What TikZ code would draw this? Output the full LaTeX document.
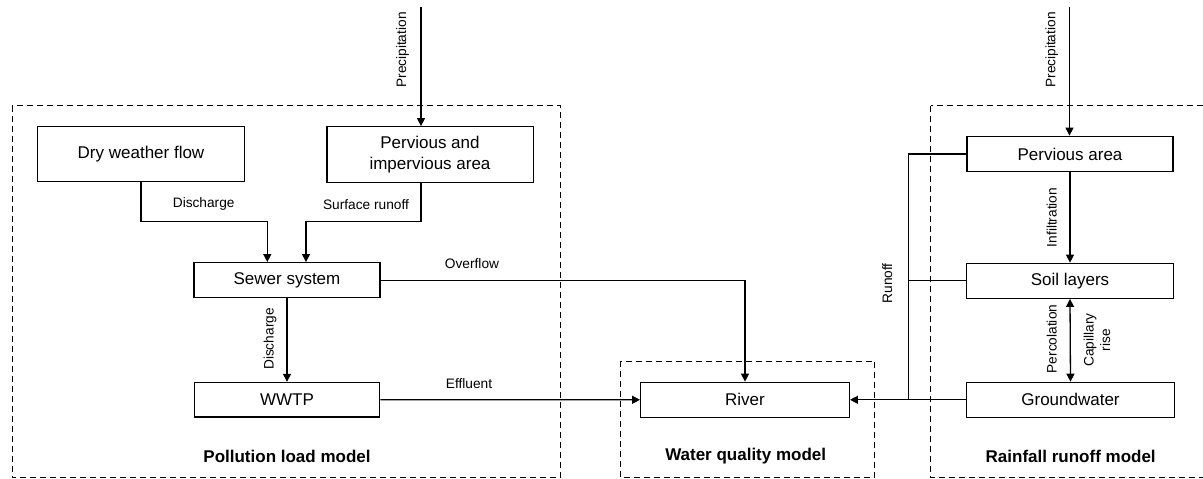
\documentclass[tikz,border=0pt]{standalone}
\usepackage{fontspec}
\setmainfont{Liberation Sans}
\usetikzlibrary{arrows.meta}
\tikzset{
  box/.style={draw, line width=1.3pt, inner sep=0pt, font=\fontsize{17}{20.5}\selectfont, align=center},
  lbl/.style={inner sep=0pt, font=\fontsize{13.7}{16.5}\selectfont, align=center},
  title/.style={inner sep=0pt, font=\fontsize{17}{20}\selectfont\bfseries},
  conn/.style={line width=1.3pt},
  arr/.style={line width=1.3pt, -{Triangle[length=8pt,width=8pt]}},
  region/.style={line width=1pt, dash pattern=on 6pt off 4pt},
}
\begin{document}
\begin{tikzpicture}[x=1pt,y=-1pt]
\useasboundingbox (0,0) rectangle (1203,479);
% model regions
\draw[region] (12,105.7) rectangle (560.7,477.5);
\draw[region] (620,361) rectangle (874.3,477.5);
\draw[region] (930.7,105.7) rectangle (1215,477.5);
% boxes
\node[box, minimum width=206.6pt, minimum height=55pt] (dwf) at (141,154.3) {Dry weather flow};
\node[box, minimum width=206.3pt, minimum height=55.5pt] (pia) at (430,154.5) {Pervious and\\impervious area};
\node[box, minimum width=186pt, minimum height=35pt] (sewer) at (287,280.2) {Sewer system};
\node[box, minimum width=185.3pt, minimum height=34.5pt] (wwtp) at (287,399.7) {WWTP};
\node[box, minimum width=208.6pt, minimum height=35pt] (river) at (745,399.8) {River};
\node[box, minimum width=206pt, minimum height=35.5pt] (pa) at (1070,154) {Pervious area};
\node[box, minimum width=207.6pt, minimum height=35pt] (soil) at (1070,280.8) {Soil layers};
\node[box, minimum width=207.6pt, minimum height=35pt] (gw) at (1070.5,399.8) {Groundwater};
% helper coordinates
\coordinate (p1) at (421,7);
\coordinate (p2) at (1069.5,7);
\coordinate (j1) at (267.3,221.7);
\coordinate (j2) at (306,221.7);
\coordinate (rk) at (908.3,399.8);
% connectors
\draw[arr] (p1) -- (p1 |- pia.north);
\draw[arr] (dwf.south) |- (j1) -- (j1 |- sewer.north);
\draw[arr] (p1 |- pia.south) |- (j2) -- (j2 |- sewer.north);
\draw[arr] (sewer.east) -| (river.north);
\draw[arr] (sewer.south) -- (wwtp.north);
\draw[arr] (wwtp.east) -- (river.west);
\draw[arr] (p2) -- (p2 |- pa.north);
\draw[arr] (pa.south) -- (soil.north);
\draw[line width=1.3pt, {Triangle[length=8pt,width=8pt]}-{Triangle[length=8pt,width=8pt]}] (soil.south) -- (gw.north);
\draw[conn] (pa.west) -| (rk);
\draw[conn] (soil.west) -- (soil.west -| rk);
\draw[arr] (gw.west) -- (river.east);
% connector labels
\node[lbl, rotate=90] (lp1) at (402.7,50) {Precipitation};
\node[lbl, rotate=90] (lp2) at (1051.7,50) {Precipitation};
\node[lbl] (ld1) at (203.7,204.3) {Discharge};
\node[lbl] (lsr) at (366,204.3) {Surface runoff};
\node[lbl] (lof) at (472,264) {Overflow};
\node[lbl] (lef) at (469,384) {Effluent};
\node[lbl, rotate=90] (ld2) at (270,339) {Discharge};
\node[lbl, rotate=90] (lin) at (1051.7,217.5) {Infiltration};
\node[lbl, rotate=90] (lro) at (887.3,283.3) {Runoff};
\node[lbl, rotate=90] (lpc) at (1051.7,339) {Percolation};
\node[lbl, rotate=90] (lcr) at (1097,340) {Capillary\\rise};
% region titles
\node[title] (t1) at (287,456.7) {Pollution load model};
\node[title] (t2) at (745.7,456.5) {Water quality model};
\node[title] (t3) at (1070.7,456.7) {Rainfall runoff model};
\end{tikzpicture}
\end{document}
